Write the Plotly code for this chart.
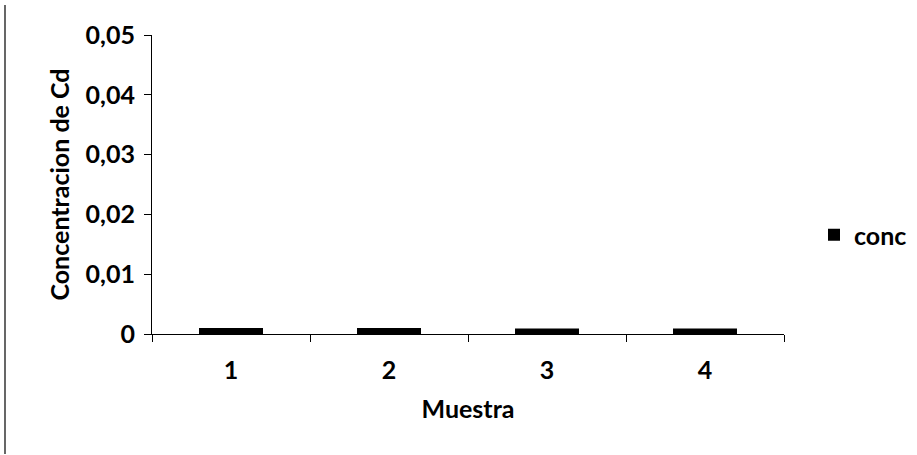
import plotly.graph_objects as go

categories = ["1", "2", "3", "4"]
conc = [0.0010, 0.0010, 0.0009, 0.0009]
y_ticks = [0, 0.01, 0.02, 0.03, 0.04, 0.05]

W, H = 917, 455
L, R, T, B = 152, 133, 35, 121
pw = W - L - R
ph = H - T - B

FS = 25
bold = dict(family="Lato, 'Open Sans', sans-serif", size=FS, color="black", weight="bold")

fig = go.Figure()
fig.add_trace(go.Bar(x=categories, y=conc, name="conc", marker=dict(color="black", line=dict(width=0)),
                     showlegend=True))

fig.update_layout(
    width=W, height=H,
    margin=dict(l=L, r=R, t=T, b=B, pad=0, autoexpand=False),
    paper_bgcolor="white", plot_bgcolor="white",
    separators=",.",
    bargap=0.595,
    font=bold,
    showlegend=True,
    legend=dict(x=(814 - L) / pw, y=(334 - 235) / ph, xanchor="left", yanchor="middle",
                font=bold, itemwidth=30, bgcolor="rgba(0,0,0,0)"),
    xaxis=dict(type="category", tickson="boundaries", ticks="outside", ticklen=7, tickcolor="black",
               showline=True, linecolor="black", linewidth=1.2, showgrid=False,
               tickfont=bold, ticklabelstandoff=14,
               title=dict(text="Muestra", standoff=17, font=bold)),
    yaxis=dict(range=[0, 0.05], tickvals=y_ticks, ticks="outside", ticklen=7, tickcolor="black",
               showline=True, linecolor="black", linewidth=1.2, showgrid=False, zeroline=False,
               tickfont=bold, ticklabelstandoff=4,
               title=dict(text="Concentracion de Cd", standoff=8, font=bold)),
)
# left page frame line
fig.add_shape(type="line", xref="paper", yref="paper",
              x0=(5 - L) / pw, x1=(5 - L) / pw,
              y0=-(B - 1) / ph, y1=1 + (T - 5) / ph,
              line=dict(color="black", width=1.2))
fig.write_html("out.html")
